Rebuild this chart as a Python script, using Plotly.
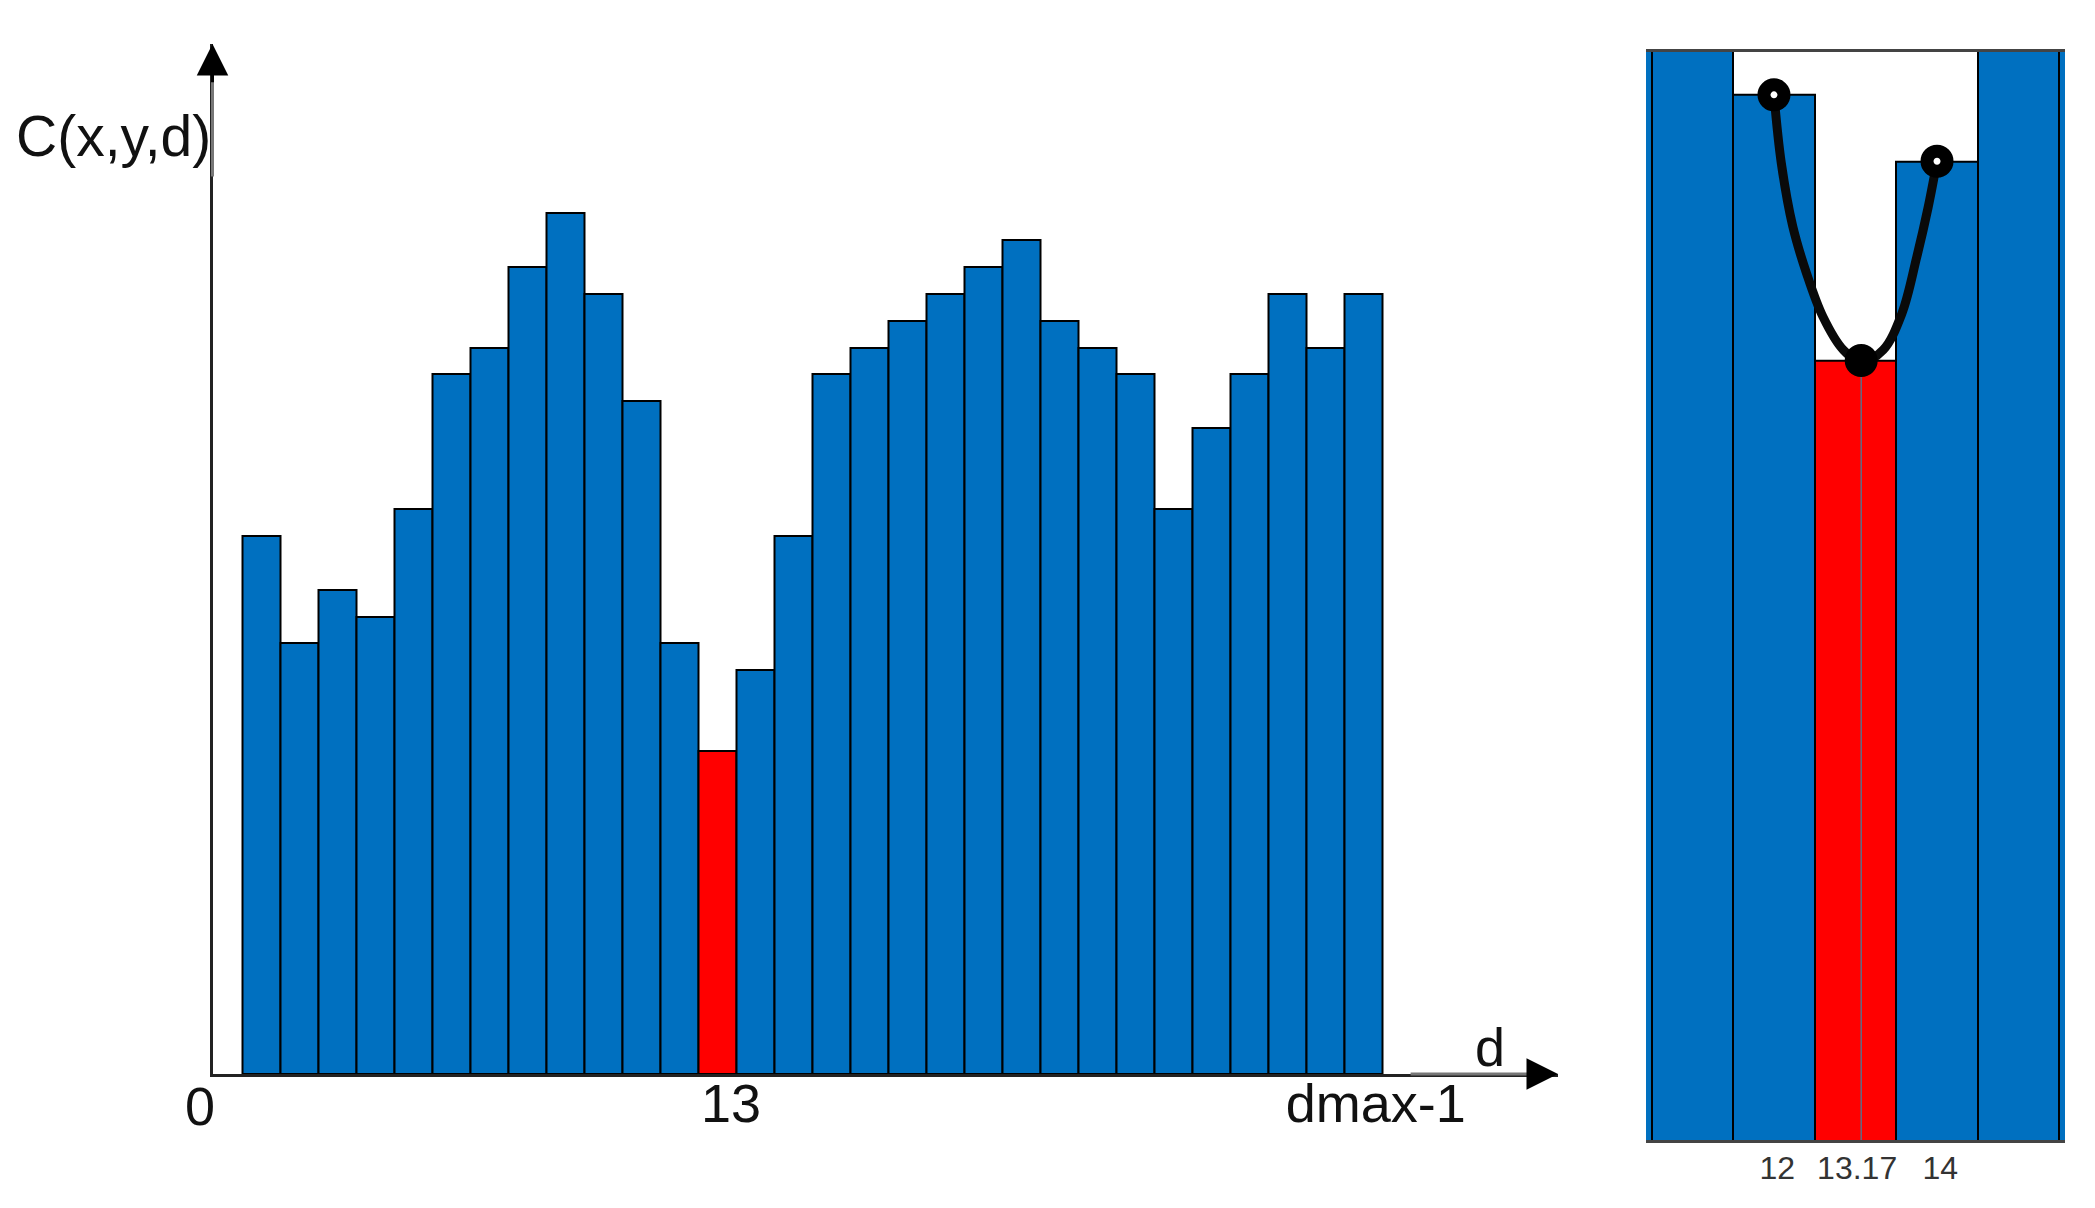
import plotly.graph_objects as go

W, H = 2095, 1208

# cost per disparity, both panels draw the same bars
disparity = list(range(1, 31))
cost = [20, 16, 18, 17, 21, 26, 27, 30, 32, 29, 25, 16, 12, 15, 20,
        26, 27, 28, 29, 30, 31, 28, 27, 26, 21, 24, 26, 29, 27, 29]
min_disparity = 13

# parabola
curve_x = [12.0, 12.09, 12.23, 12.40, 12.60, 12.85, 13.07, 13.34, 13.57, 13.75, 13.89, 14.0]
curve_y = [16.0, 14.97, 14.02, 13.31, 12.66, 12.16, 11.98, 12.16, 12.71, 13.55, 14.3, 15.0]
dots_x = [12.0, 13.07, 14.0]
dots_y = [16, 12, 15]

zoom_ticks = [12.04, 13.02, 14.04]
zoom_labels = ["12", "13.17", "14"]
main_ticks = [13.35, 30.32]
main_labels = ["13", "dmax-1"]

BLUE = "#0070c0"
RED = "#ff0000"
colors = [RED if d == min_disparity else BLUE for d in disparity]
FONT = "Liberation Sans"


def px(x):
    return x / W


def py(y):
    return 1 - y / H


def label(text, x, y, size=54):
    return dict(x=px(x), y=py(y), xref="paper", yref="paper", text=text, showarrow=False,
                xanchor="center", yanchor="middle", font=dict(size=size, family=FONT, color="#111111"))


def arrow(x, y, ax, ay, head, color):
    return dict(x=x, y=y, ax=ax, ay=ay, xref="x", yref="y", axref="x", ayref="y", text="", showarrow=True,
                arrowhead=head, arrowsize=2.1, arrowwidth=3, arrowcolor=color, standoff=0)


fig = go.Figure()

for xa, ya in (("x", "y"), ("x2", "y2")):
    fig.add_trace(go.Bar(x=disparity, y=cost, width=1, xaxis=xa, yaxis=ya,
                         marker=dict(color=colors, line=dict(color="#000000", width=2)),
                         showlegend=False))

# thin line down from the sub-pixel minimum
fig.add_trace(go.Scatter(x=[dots_x[1], dots_x[1]], y=[0.26, dots_y[1]], mode="lines", xaxis="x2", yaxis="y2",
                         line=dict(color="#5f6b85", width=1.5), showlegend=False))
fig.add_trace(go.Scatter(x=curve_x, y=curve_y, mode="lines", xaxis="x2", yaxis="y2",
                         line=dict(color="#0a0a0a", width=9, shape="spline"), showlegend=False))
fig.add_trace(go.Scatter(x=dots_x, y=dots_y, mode="markers", xaxis="x2", yaxis="y2",
                         marker=dict(size=20, color=["#ffffff", "#000000", "#ffffff"],
                                     line=dict(color="#000000", width=13)),
                         showlegend=False))

axis_off = dict(showgrid=False, zeroline=False, showticklabels=False, ticks="")

fig.update_layout(
    width=W, height=H, autosize=False,
    margin=dict(l=0, r=0, t=0, b=0),
    paper_bgcolor="white", plot_bgcolor="white",
    font=dict(family=FONT, color="#111111"),
    bargap=0,
    xaxis=dict(domain=[px(212.5), px(1558)], range=[-0.3, 35.12], showgrid=False, zeroline=False,
               showline=True, linecolor="#222222", linewidth=3,
               tickmode="array", tickvals=main_ticks, ticktext=main_labels, ticks="", ticklabelstandoff=-20,
               tickfont=dict(size=54, family=FONT, color="#111111")),
    yaxis=dict(domain=[py(1074), py(44)], range=[0, 38.28], showline=True, linecolor="#222222",
               linewidth=3, **axis_off),
    xaxis2=dict(domain=[px(1646), px(2065)], range=[10.43, 15.57], showgrid=False, zeroline=False,
                anchor="y2", showline=True, mirror=True, linecolor="#444444", linewidth=3,
                tickmode="array", tickvals=zoom_ticks, ticktext=zoom_labels, ticks="", ticklabelstandoff=-2,
                tickfont=dict(size=32, family=FONT, color="#333333")),
    yaxis2=dict(domain=[py(1140), py(51.7)], range=[0.26, 16.65], anchor="x2", **axis_off),
    annotations=[
        arrow(34.7, 0, 31.2, 0, 0, "#777777"),
        arrow(35.12, 0, 34.4, 0, 2, "#000000"),
        arrow(-0.3, 37.5, -0.3, 33.3, 0, "#777777"),
        arrow(-0.3, 38.28, -0.3, 36.8, 2, "#000000"),
        label("C(x,y,d)", 113, 136, 57),
        label("0", 200, 1106),
        label("d", 1490, 1047),
    ],
)

fig.write_html("out.html", config=dict(displayModeBar=False), post_script="document.body.style.margin='0';")
